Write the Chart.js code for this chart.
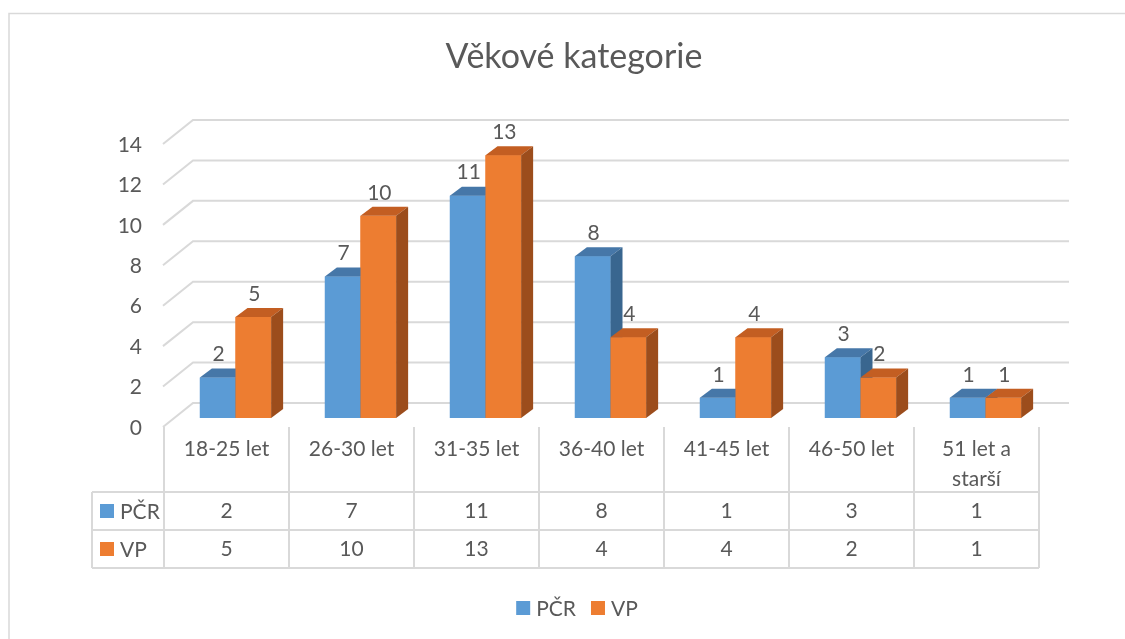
<!DOCTYPE html>
<html>
<head>
<meta charset="utf-8">
<script src="https://cdn.jsdelivr.net/npm/chart.js@4"></script>
<style>
  body { margin: 0; background: #fff; }
  canvas { display: block; }
</style>
</head>
<body>
<canvas id="myChart" width="1125" height="639"></canvas>
<script>
const categories = ["18-25 let", "26-30 let", "31-35 let", "36-40 let", "41-45 let", "46-50 let", ["51 let a", "starší"]];
const pcr = [2, 7, 11, 8, 1, 3, 1];
const vp = [5, 10, 13, 4, 4, 2, 1];
const yTicks = [0, 2, 4, 6, 8, 10, 12, 14];
const seriesNames = ["PČR", "VP"];
const chartTitle = "Věkové kategorie";

const FONT = "Lato, 'Open Sans', sans-serif";
const TEXT = "#595959";
const LINE = "#d9d9d9";
const faces = [
  { front: "#5b9bd5", top: "#4677a8", side: "#39668f" },
  { front: "#ed7d31", top: "#c35e22", side: "#9c4d1c" },
];
const DEPTH_X = 12;
const DEPTH_Y = 9;

function line(ctx, pts) {
  ctx.beginPath();
  ctx.moveTo(pts[0][0], pts[0][1]);
  for (let i = 1; i < pts.length; i++) ctx.lineTo(pts[i][0], pts[i][1]);
  ctx.stroke();
}

function poly(ctx, pts, color) {
  ctx.fillStyle = color;
  ctx.beginPath();
  ctx.moveTo(pts[0][0], pts[0][1]);
  for (let i = 1; i < pts.length; i++) ctx.lineTo(pts[i][0], pts[i][1]);
  ctx.closePath();
  ctx.fill();
}

const excel3d = {
  id: "excel3d",
  beforeDatasetsDraw(chart) {
    const ctx = chart.ctx;
    const area = chart.chartArea;
    const y = chart.scales.y;
    const x = chart.scales.x;
    ctx.save();

    // frame
    ctx.fillStyle = "#fff";
    ctx.fillRect(0, 0, chart.width, chart.height);
    ctx.strokeStyle = LINE;
    ctx.lineWidth = 1.5;
    ctx.strokeRect(9, 13.5, chart.width + 20, chart.height + 20);

    // title
    ctx.fillStyle = TEXT;
    ctx.font = "34px " + FONT;
    ctx.textAlign = "center";
    ctx.textBaseline = "alphabetic";
    ctx.fillText(chartTitle, 574, 68);

    // 3d grid + y labels
    ctx.strokeStyle = LINE;
    ctx.lineWidth = 2;
    ctx.font = "21px " + FONT;
    ctx.textAlign = "right";
    ctx.textBaseline = "middle";
    yTicks.forEach((v) => {
      const py = y.getPixelForValue(v);
      line(ctx, [[area.left - 10, py + 9], [area.left + 20, py - 15], [area.right + 21, py - 15]]);
      ctx.fillText(String(v), 142, py + 10);
    });

    // data table
    const n = categories.length;
    const colW = (x.right - x.left) / n;
    const x0 = area.left - 9;
    const top = y.getPixelForValue(0) + 9;
    const headBottom = top + 65;
    const rowH = 38;
    const keyLeft = 92;
    const bottom = headBottom + rowH * 2;
    ctx.lineWidth = 2;
    for (let k = 0; k <= n; k++) {
      line(ctx, [[x0 + k * colW, top], [x0 + k * colW, bottom]]);
    }
    for (let r = 0; r <= 2; r++) {
      line(ctx, [[keyLeft, headBottom + r * rowH], [x0 + n * colW, headBottom + r * rowH]]);
    }
    line(ctx, [[keyLeft, headBottom], [keyLeft, bottom]]);

    ctx.fillStyle = TEXT;
    ctx.textAlign = "center";
    ctx.textBaseline = "middle";
    categories.forEach((c, i) => {
      const cx = x0 + (i + 0.5) * colW;
      const lines = Array.isArray(c) ? c : [c];
      lines.forEach((t, j) => ctx.fillText(t, cx, top + 22 + j * 30));
      ctx.fillText(String(pcr[i]), cx, headBottom + rowH / 2);
      ctx.fillText(String(vp[i]), cx, headBottom + rowH * 1.5);
    });
    ctx.textAlign = "left";
    seriesNames.forEach((s, r) => {
      const cy = headBottom + rowH * (r + 0.5);
      ctx.fillStyle = faces[r].front;
      ctx.fillRect(100, cy - 7, 14, 14);
      ctx.fillStyle = TEXT;
      ctx.fillText(s, 120, cy + 1);
    });

    // bottom legend
    const ly = 608;
    const w0 = ctx.measureText(seriesNames[0]).width;
    const w1 = ctx.measureText(seriesNames[1]).width;
    const gap = 15;
    const total = 14 + 6 + w0 + gap + 14 + 6 + w1;
    let lx = 577 - total / 2;
    seriesNames.forEach((s, r) => {
      ctx.fillStyle = faces[r].front;
      ctx.fillRect(lx, ly - 7, 14, 14);
      ctx.fillStyle = TEXT;
      ctx.fillText(s, lx + 20, ly + 1);
      lx += 20 + (r === 0 ? w0 : w1) + gap;
    });

    ctx.restore();
  },
  afterDatasetsDraw(chart) {
    const ctx = chart.ctx;
    ctx.save();
    const n = categories.length;
    for (let i = 0; i < n; i++) {
      for (let d = 0; d < chart.data.datasets.length; d++) {
        const el = chart.getDatasetMeta(d).data[i];
        const p = el.getProps(["x", "y", "base", "width"], true);
        const l = p.x - p.width / 2;
        const r = p.x + p.width / 2;
        const f = faces[d];
        ctx.fillStyle = f.front;
        ctx.fillRect(l, p.y, p.width, p.base - p.y);
        poly(ctx, [[l, p.y], [l + DEPTH_X, p.y - DEPTH_Y], [r + DEPTH_X, p.y - DEPTH_Y], [r, p.y]], f.top);
        poly(ctx, [[r, p.y], [r + DEPTH_X, p.y - DEPTH_Y], [r + DEPTH_X, p.base - DEPTH_Y], [r, p.base]], f.side);
      }
    }
    // value labels
    ctx.fillStyle = TEXT;
    ctx.font = "21px " + FONT;
    ctx.textAlign = "center";
    ctx.textBaseline = "middle";
    chart.data.datasets.forEach((ds, d) => {
      chart.getDatasetMeta(d).data.forEach((el, i) => {
        const p = el.getProps(["x", "y"], true);
        ctx.fillText(String(ds.data[i]), p.x + 1, p.y - 23);
      });
    });
    ctx.restore();
  },
};

const myChart = document.getElementById("myChart").getContext("2d");

new Chart(myChart, {
  type: "bar",
  data: {
    labels: categories,
    datasets: [
      { label: seriesNames[0], data: pcr, backgroundColor: faces[0].front },
      { label: seriesNames[1], data: vp, backgroundColor: faces[1].front },
    ],
  },
  options: {
    responsive: false,
    devicePixelRatio: 1,
    animation: false,
    categoryPercentage: 0.57,
    barPercentage: 1,
    layout: {
      padding: { left: 173, right: 77, top: 135, bottom: 221 },
    },
    plugins: {
      legend: { display: false },
      title: { display: false },
      tooltip: { enabled: false },
    },
    scales: {
      x: { display: false },
      y: { display: false, min: 0, max: 14 },
    },
  },
  plugins: [excel3d],
});
</script>
</body>
</html>
